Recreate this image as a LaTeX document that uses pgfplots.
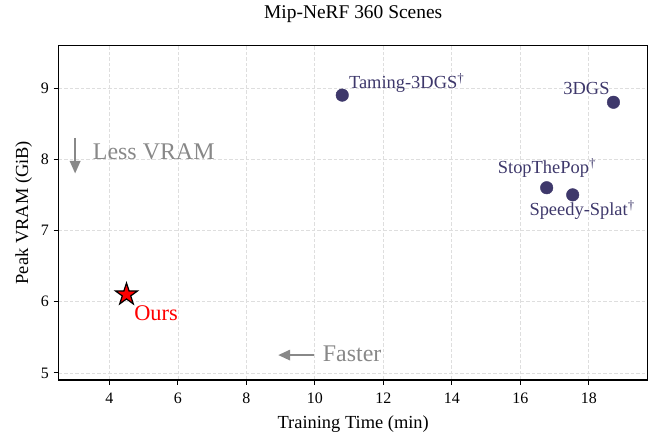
\documentclass[border=0pt]{standalone}
\usepackage{pgfplots}
\pgfplotsset{compat=1.18}
\usepackage{fontspec}
\setmainfont{Liberation Serif}
\usetikzlibrary{arrows.meta}
\definecolor{dotcol}{RGB}{62,56,107}
\definecolor{anncol}{RGB}{136,136,136}
\pgfdeclareplotmark{fstar}{%
  \pgfpathmoveto{\pgfpointpolar{90}{\pgfplotmarksize}}%
  \pgfpathlineto{\pgfpointpolar{126}{0.382\pgfplotmarksize}}%
  \pgfpathlineto{\pgfpointpolar{162}{\pgfplotmarksize}}%
  \pgfpathlineto{\pgfpointpolar{198}{0.382\pgfplotmarksize}}%
  \pgfpathlineto{\pgfpointpolar{234}{\pgfplotmarksize}}%
  \pgfpathlineto{\pgfpointpolar{270}{0.382\pgfplotmarksize}}%
  \pgfpathlineto{\pgfpointpolar{306}{\pgfplotmarksize}}%
  \pgfpathlineto{\pgfpointpolar{342}{0.382\pgfplotmarksize}}%
  \pgfpathlineto{\pgfpointpolar{18}{\pgfplotmarksize}}%
  \pgfpathlineto{\pgfpointpolar{54}{0.382\pgfplotmarksize}}%
  \pgfpathclose
  \pgfusepathqfillstroke
}
\begin{document}
\begin{tikzpicture}
\begin{axis}[
  name=ax,
  scale only axis,
  width=589bp, height=334.7bp,
  xmin=2.52, xmax=19.72,
  ymin=4.9, ymax=9.6,
  xtick={4,6,...,18},
  ytick={5,6,7,8,9},
  /pgf/number format/assume math mode=true,
  tick label style={font=\fontsize{16}{19}\selectfont},
  xticklabel style={inner sep=0pt, yshift=-8bp},
  yticklabel style={inner sep=0pt, xshift=-4.7bp},
  tick align=outside,
  xtick pos=bottom, ytick pos=left,
  major tick length=5bp,
  every tick/.style={black, line width=1bp},
  axis line style={line width=1.2bp, black},
  grid=major,
  major grid style={dash pattern=on 3.5bp off 2bp, color=black!13, line width=0.7bp},
  xlabel={Training Time (min)},
  xlabel style={font=\fontsize{18.5}{22}\selectfont, at={(axis description cs:0.5,-0.1315)}, anchor=center},
  ylabel={Peak VRAM (GiB)},
  ylabel style={font=\fontsize{18.5}{22}\selectfont, at={(axis description cs:-0.0594,0.5)}, anchor=center},
  clip=false,
]
\addplot[only marks, mark=*, mark size=6.3bp, color=dotcol] coordinates {
  (10.8,8.9) (18.72,8.8) (16.77,7.6) (17.53,7.5)
};
\addplot[only marks, mark=fstar, mark size=11.6bp, mark options={fill=red, draw=black, line width=1.2bp}] coordinates {
  (4.5,6.1)
};
\node[anchor=base west, xshift=6.6bp, yshift=6.7bp, text=dotcol, font=\fontsize{18.5}{22}\selectfont, inner sep=0pt] at (axis cs:10.8,8.9) {Taming-3DGS\textsuperscript{\textdagger}};
\node[anchor=base east, xshift=-3.7bp, yshift=7.3bp, text=dotcol, font=\fontsize{18.5}{22}\selectfont, inner sep=0pt] at (axis cs:18.72,8.8) {3DGS};
\node[anchor=base west, xshift=-49bp, yshift=14.4bp, text=dotcol, font=\fontsize{18.5}{22}\selectfont, inner sep=0pt] at (axis cs:16.77,7.6) {StopThePop\textsuperscript{\textdagger}};
\node[anchor=base west, xshift=-43.4bp, yshift=-20.7bp, text=dotcol, font=\fontsize{18.5}{22}\selectfont, inner sep=0pt] at (axis cs:17.53,7.5) {Speedy-Splat\textsuperscript{\textdagger}};
\node[anchor=base west, xshift=7.6bp, yshift=-26.3bp, text=red, font=\fontsize{22.5}{26}\selectfont, inner sep=0pt] at (axis cs:4.5,6.1) {Ours};
\draw[anncol, line width=1.8bp, -{Stealth[length=12.5bp, width=10.5bp, inset=0pt]}] (axis cs:3.0,8.3) -- (axis cs:3.0,7.8);
\node[anchor=base west, text=anncol, font=\fontsize{24}{28}\selectfont, inner sep=0pt] at (axis cs:3.515,8.0) {Less VRAM};
\draw[anncol, line width=1.8bp, -{Stealth[length=12bp, width=10.5bp, inset=0pt]}] (axis cs:9.97,5.25) -- (axis cs:8.93,5.25);
\node[anchor=base west, text=anncol, font=\fontsize{24}{28}\selectfont, inner sep=0pt] at (axis cs:10.23,5.155) {Faster};
\end{axis}
\node[font=\fontsize{19.5}{23}\selectfont, inner sep=0pt, anchor=center] at ([yshift=31bp]ax.north) {Mip-NeRF 360 Scenes};
\pgfresetboundingbox
\path ([xshift=-58.7bp,yshift=-53bp]ax.south west) rectangle ([xshift=1.3bp,yshift=45.3bp]ax.north east);
\end{tikzpicture}
\end{document}
